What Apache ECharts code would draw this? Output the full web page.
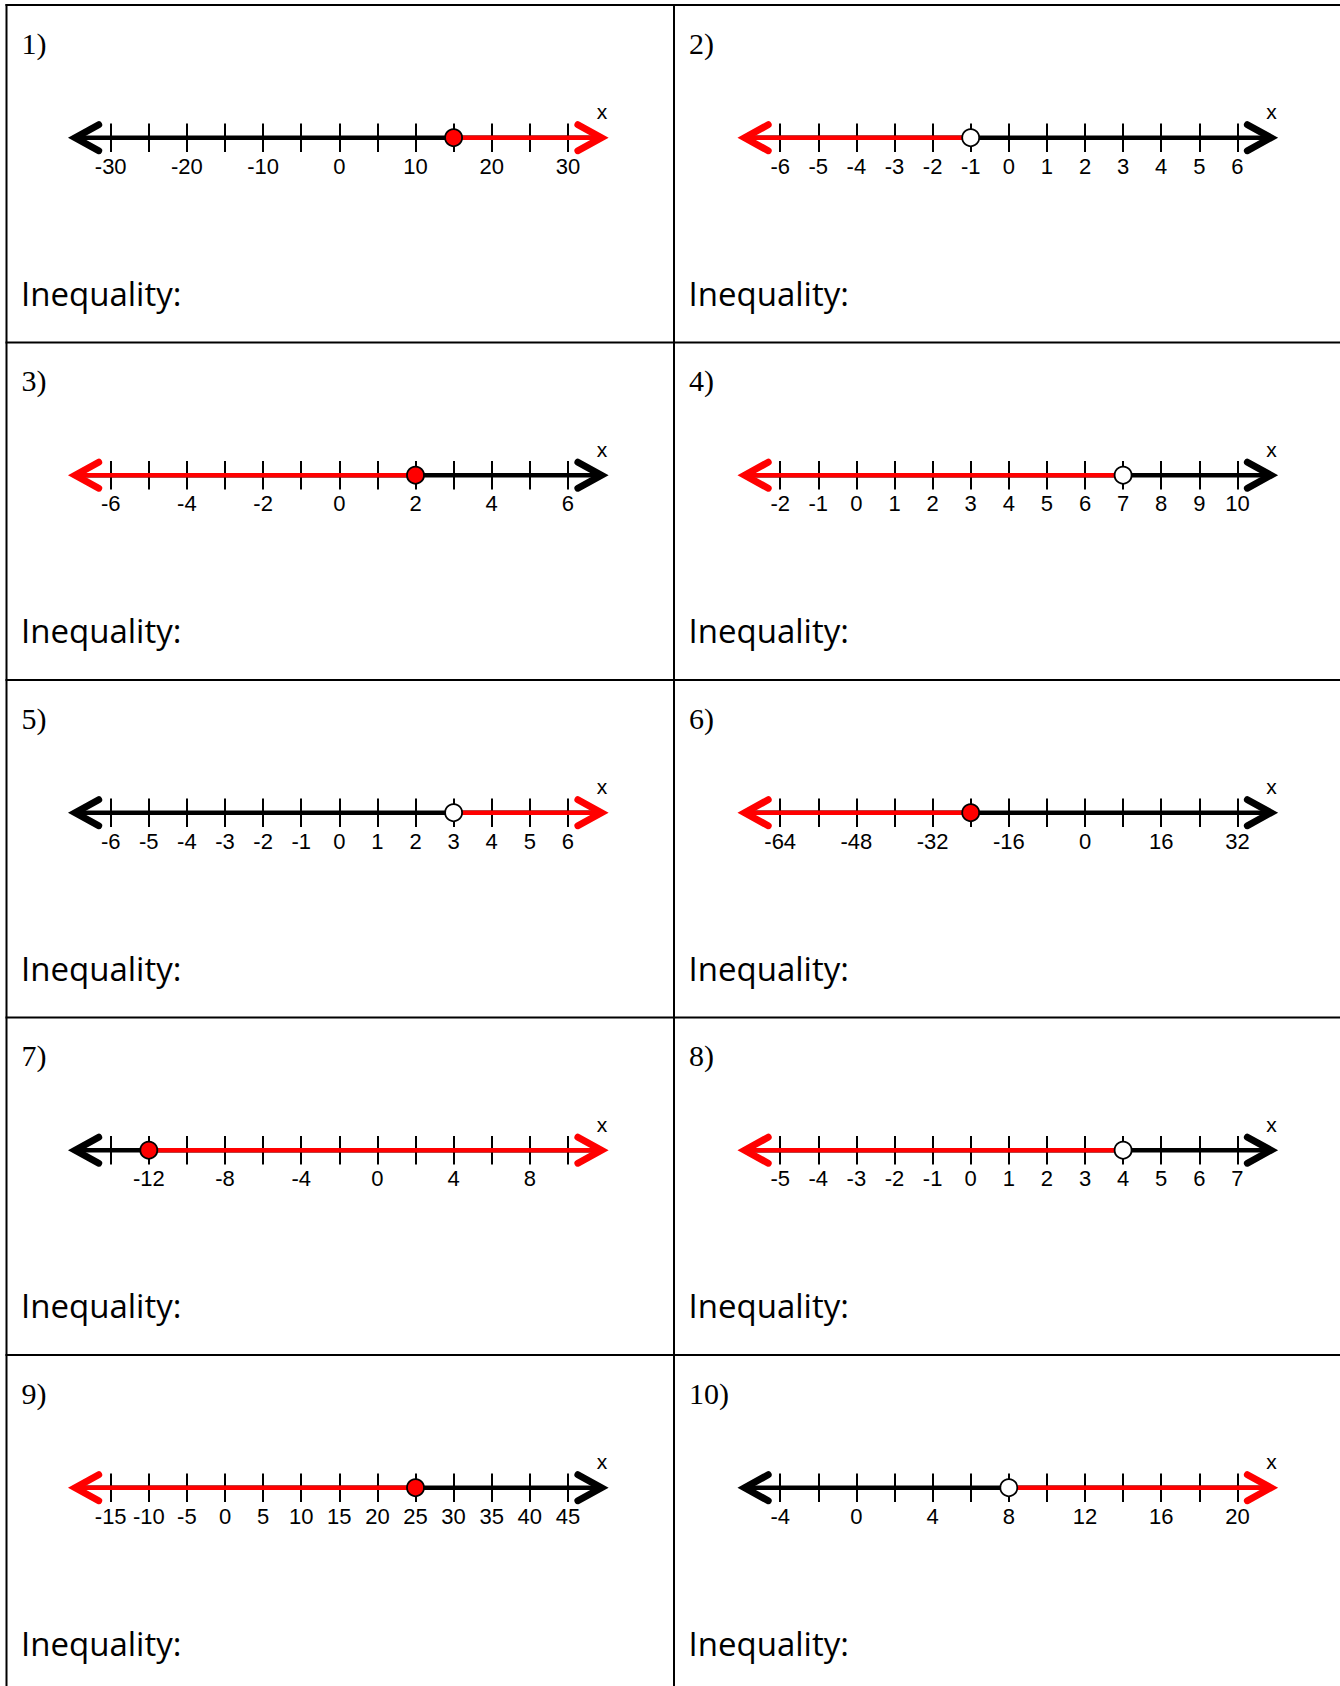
<!DOCTYPE html>
<html>
<head>
<meta charset="utf-8">
<script src="https://cdn.jsdelivr.net/npm/echarts@6/dist/echarts.min.js"></script>
<style>
html,body{margin:0;padding:0;background:#fff;}
#chart{width:1340px;height:1686px;}
</style>
</head>
<body>
<div id="chart"></div>
<script>
// ---- data ----
const problemLabels = ['1)', '2)', '3)', '4)', '5)', '6)', '7)', '8)', '9)', '10)'];
const axisMins    = [-30, -6, -6, -2, -6, -64, -14, -5, -15, -4];
const axisMaxs    = [ 30,  6,  6, 10,  6,  32,  10,  7,  45, 20];
const tickSteps   = [  5,  1,  1,  1,  1,   8,   2,  1,   5,  2];
const labelStarts = [-30, -6, -6, -2, -6, -64, -12, -5, -15, -4];
const labelSteps  = [ 10,  1,  2,  1,  1,  16,   4,  1,   5,  4];
const endpoints   = [ 15, -1,  2,  7,  3, -24, -12,  4,  25,  8];
const closedDots  = [true, false, true, false, false, true, true, false, true, false];
const shadeDirs   = [1, -1, -1, -1, 1, -1, 1, -1, -1, 1]; // 1 = right, -1 = left
const promptText = 'Inequality:';

// ---- layout ----
const ROW_TOP0 = 5, ROW_H = 337.5;
const COL_X = [6.5, 674];
const AXIS_LEFT = [110.7, 780.2];
const AXIS_W = 457.2;
const LINE_DY = 132.7;
const TICK_HALF = 14.3;
const RED = '#ff0000', BLK = '#000000';

const grids = [], xAxes = [], yAxes = [], series = [], graphics = [];

function arrow(tx, y, s, color) {
  return {
    type: 'polyline',
    shape: { points: [[tx - s * 31, y - 13], [tx - s * 7.5, y], [tx - s * 31, y + 13]] },
    style: { stroke: color, lineWidth: 7, fill: null, lineCap: 'round', lineJoin: 'miter' }
  };
}

for (let i = 0; i < 10; i++) {
  const r = Math.floor(i / 2), c = i % 2;
  const rowTop = ROW_TOP0 + r * ROW_H;
  const lineY = rowTop + LINE_DY;
  grids.push({ left: AXIS_LEFT[c], top: lineY - TICK_HALF, width: AXIS_W, height: TICK_HALF * 2,
               containLabel: false, outerBoundsMode: 'none' });
  const ls = labelStarts[i], lst = labelSteps[i];
  xAxes.push({
    type: 'value', gridIndex: i, min: axisMins[i], max: axisMaxs[i], interval: tickSteps[i],
    axisLine: { show: false }, axisTick: { show: false },
    splitLine: { show: true, lineStyle: { color: BLK, width: 2, type: 'solid' } },
    axisLabel: {
      show: true, margin: 3, color: BLK, fontFamily: 'Liberation Sans', fontSize: 22,
      hideOverlap: false, showMinLabel: true, showMaxLabel: true,
      formatter: function (v) {
        const k = Math.round(v - ls);
        return (k % lst === 0) ? String(Math.round(v)) : '';
      }
    }
  });
  yAxes.push({ type: 'value', gridIndex: i, min: -1, max: 1, show: false });

  series.push({
    type: 'custom', xAxisIndex: i, yAxisIndex: i, clip: false, z: 2, silent: true,
    encode: { x: 2, y: 3 },
    data: [[axisMins[i], axisMaxs[i], endpoints[i], shadeDirs[i]]],
    renderItem: function (params, api) {
      const pMin = api.coord([api.value(0), 0]);
      const pMax = api.coord([api.value(1), 0]);
      const pPt = api.coord([api.value(2), 0]);
      const dir = api.value(3);
      const y = pMin[1];
      const lt = pMin[0] - 43, rt = pMax[0] + 41;
      return {
        type: 'group',
        children: [
          { type: 'line', shape: { x1: lt + 7, y1: y, x2: rt - 7, y2: y }, style: { stroke: BLK, lineWidth: 4.5 } },
          { type: 'line', shape: dir > 0 ? { x1: pPt[0], y1: y, x2: rt - 7, y2: y } : { x1: lt + 7, y1: y, x2: pPt[0], y2: y },
            style: { stroke: RED, lineWidth: 4.5 } },
          arrow(lt, y, -1, dir < 0 ? RED : BLK),
          arrow(rt, y, 1, dir > 0 ? RED : BLK),
          { type: 'text', style: { text: 'x', x: pMax[0] + 34, y: y - 26, align: 'center', verticalAlign: 'middle',
            fill: BLK, font: '21px "Liberation Sans"' } }
        ]
      };
    }
  });
  series.push({
    type: 'scatter', xAxisIndex: i, yAxisIndex: i, clip: false, z: 3, silent: true,
    symbol: 'circle', symbolSize: 17,
    itemStyle: { color: closedDots[i] ? RED : '#ffffff', borderColor: BLK, borderWidth: 1.8, opacity: 1 },
    data: [[endpoints[i], 0]]
  });

  graphics.push({
    type: 'text', x: COL_X[c] + 15, y: rowTop + 38,
    style: { text: problemLabels[i], fill: BLK, font: '30px "Liberation Serif"', verticalAlign: 'middle', align: 'left' }
  });
  graphics.push({
    type: 'text', x: COL_X[c] + 14.5, y: rowTop + 288,
    style: { text: promptText, fill: BLK, font: '33px "Open Sans"', verticalAlign: 'middle', align: 'left' }
  });
}

// table borders
const bw = 2;
graphics.push({ type: 'line', shape: { x1: 5.5, y1: 5, x2: 1340, y2: 5 }, style: { stroke: BLK, lineWidth: bw } });
graphics.push({ type: 'line', shape: { x1: 6.5, y1: 4, x2: 6.5, y2: 1686 }, style: { stroke: BLK, lineWidth: bw } });
graphics.push({ type: 'line', shape: { x1: 674, y1: 4, x2: 674, y2: 1686 }, style: { stroke: BLK, lineWidth: bw } });
for (let r = 1; r < 5; r++) {
  const y = ROW_TOP0 + r * ROW_H;
  graphics.push({ type: 'line', shape: { x1: 5.5, y1: y, x2: 1340, y2: y }, style: { stroke: BLK, lineWidth: bw } });
}

const chart = echarts.init(document.getElementById('chart'), null, { renderer: 'svg', width: 1340, height: 1686 });
chart.setOption({
  backgroundColor: '#ffffff',
  animation: false,
  grid: grids,
  xAxis: xAxes,
  yAxis: yAxes,
  series: series,
  graphic: { elements: graphics }
});
</script>
</body>
</html>
